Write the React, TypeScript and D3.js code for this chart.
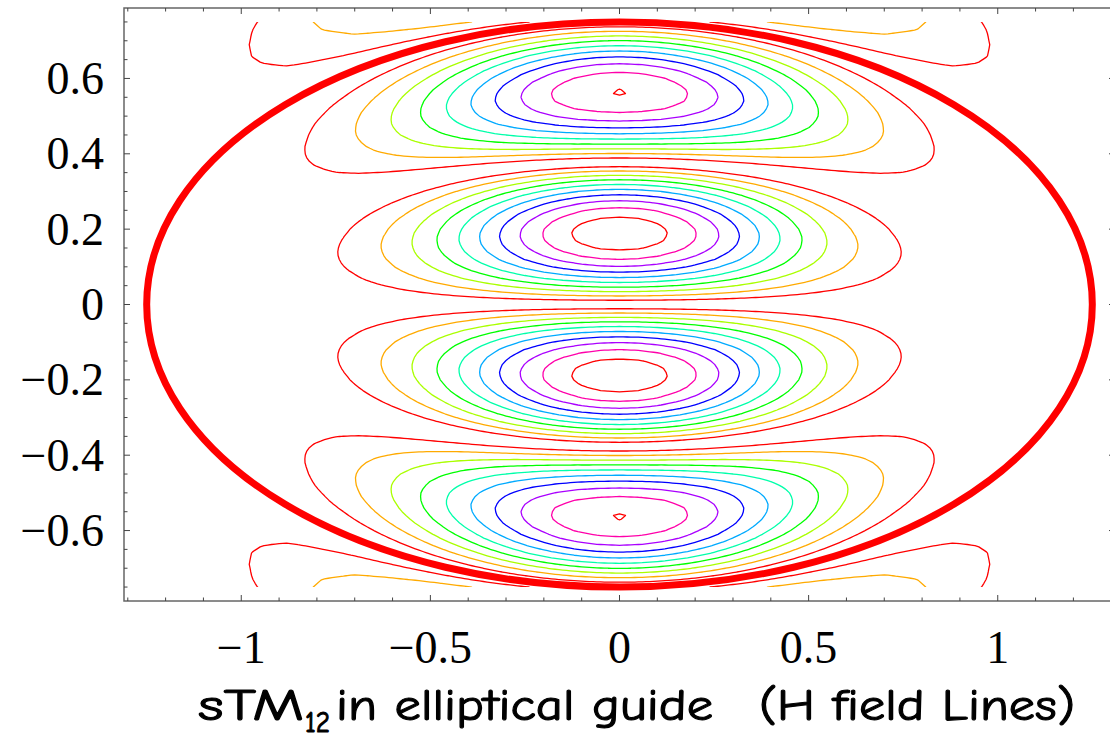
import React, { useMemo } from "react";
import * as d3 from "d3";

const W = 1110;
const H = 738;

// Profile of |H_z| across confocal ellipses, s = sinh(xi) (foci at x = ±1) (contour-level units)
const radialS = [
  0, 0.025, 0.05, 0.075, 0.1, 0.125, 0.15, 0.17, 0.1885, 0.205, 0.225, 0.25, 0.275, 0.3, 0.325, 0.35, 0.377,
  0.4, 0.425, 0.45, 0.475, 0.5, 0.525, 0.545, 0.563, 0.58, 0.6, 0.625, 0.65, 0.675, 0.7, 0.725, 0.749,
  0.775, 0.8, 0.85, 0.9, 0.935, 0.97, 1.0, 1.05, 1.1, 1.15, 1.2, 1.3,
];
const radialValue = [
  0, 2.22, 4.35, 6.28, 7.95, 9.28, 10.19, 10.61, 10.74, 10.64, 10.25, 9.36, 8.07, 6.43, 4.52, 2.39, 0,
  1.94, 3.96, 5.81, 7.4, 8.66, 9.54, 9.93, 10.05, 9.95, 9.56, 8.7, 7.46, 5.88, 4.04, 2.02, 0,
  2.05, 3.92, 7.08, 8.99, 9.4, 8.99, 8.02, 5.31, 1.66, 1.5, 3.0, 4.0,
];

// Angular profile along the confocal hyperbolas, t = cos(eta)
const angularT = [0, 0.05, 0.1, 0.15, 0.2, 0.25, 0.3, 0.35, 0.4, 0.45, 0.5, 0.55, 0.6, 0.65, 0.7, 0.75, 0.8, 0.85, 0.9, 0.95, 1];
const angularValue = [1, 0.989, 0.957, 0.906, 0.839, 0.76, 0.673, 0.583, 0.495, 0.41, 0.333, 0.264, 0.205, 0.156, 0.113, 0.081, 0.057, 0.039, 0.025, 0.013, 0];

// Contour levels and their hues
const contourLevels = [1, 2, 3, 4, 5, 6, 7, 8, 9, 10];
const contourHues = [0, 40, 80, 120, 160, 200, 240, 280, 320, 360];

// Guide boundary (semi-axes)
const ellipseAxes = [1.25, 0.75];
// Region over which the field was sampled
const fieldX = [-1.25, 1.25];
const fieldY = [-0.75, 0.75];

// Axes
const xDomain = [-1.31, 1.31];
const yDomain = [-0.787, 0.787];
const xMajor = [-1, -0.5, 0, 0.5, 1];
const xMajorLabels = ["\u22121", "\u22120.5", "0", "0.5", "1"];
const xMinor = [-1.3, -1.2, -1.1, -0.9, -0.8, -0.7, -0.6, -0.4, -0.3, -0.2, -0.1, 0.1, 0.2, 0.3, 0.4, 0.6, 0.7, 0.8, 0.9, 1.1, 1.2, 1.3];
const yMajor = [-0.6, -0.4, -0.2, 0, 0.2, 0.4, 0.6];
const yMajorLabels = ["\u22120.6", "\u22120.4", "\u22120.2", "0", "0.2", "0.4", "0.6"];
const yMinor = [-0.75, -0.7, -0.65, -0.55, -0.5, -0.45, -0.35, -0.3, -0.25, -0.15, -0.1, -0.05, 0.05, 0.1, 0.15, 0.25, 0.3, 0.35, 0.45, 0.5, 0.55, 0.65, 0.7, 0.75];

const titleMain = "sTM";
const titleSub = "12";
const titleMid = "in elliptical guide";
const titleEnd = "(H field Lines)";

export default function App() {
  const left = 124;
  const right = 1115;
  const top = 8;
  const bottom = 601;

  const x = d3.scaleLinear().domain(xDomain).range([left, right]);
  const y = d3.scaleLinear().domain(yDomain).range([bottom, top]);

  const paths = useMemo(() => {
    const step = 0.01;
    const nx = Math.round((fieldX[1] - fieldX[0]) / step) + 1;
    const ny = Math.round((fieldY[1] - fieldY[0]) / step) + 1;
    const R = d3.scaleLinear().domain(radialS).range(radialValue).clamp(true);
    const S = d3.scaleLinear().domain(angularT).range(angularValue).clamp(true);
    const values: number[] = new Array(nx * ny);
    for (let j = 0; j < ny; j++) {
      const yy = fieldY[1] - j * step;
      for (let i = 0; i < nx; i++) {
        const xx = fieldX[0] + i * step;
        const q = xx * xx + yy * yy - 1;
        const u = Math.max(0, (q + Math.sqrt(q * q + 4 * yy * yy)) / 2);
        const s = Math.sqrt(u);
        const t = Math.min(1, Math.abs(xx) / Math.sqrt(1 + u));
        values[j * nx + i] = R(s) * S(t);
      }
    }
    const gen = d3.contours().size([nx, ny]).thresholds(contourLevels);
    const polys = gen(values);
    const proj = d3.geoTransform({
      point: function (this: any, px: number, py: number) {
        this.stream.point(x(fieldX[0] + (px - 0.5) * step), y(fieldY[1] - (py - 0.5) * step));
      },
    });
    const gp = d3.geoPath(proj);
    return polys.map((p, k) => ({
      d: gp(p as any) || "",
      color: d3.hsl(contourHues[k], 1, 0.5).formatHex(),
    }));
  }, []);

  const axisColor = "#666";
  const majorLen = 6;
  const minorLen = 3.5;
  const fontTicks = "'Liberation Serif', 'Times New Roman', Times, serif";
  const fontTitle = "'Comic Sans MS', 'Comic Neue', 'DejaVu Sans', sans-serif";

  return (
    <div style={{ position: "absolute", left: 0, top: 0 }}>
      <svg width={W} height={H} style={{ display: "block", background: "#fff" }}>
        <defs>
          <clipPath id="fieldClip">
            <rect
              x={x(fieldX[0])}
              y={y(fieldY[1])}
              width={x(fieldX[1]) - x(fieldX[0])}
              height={y(fieldY[0]) - y(fieldY[1])}
            />
          </clipPath>
        </defs>
        <g clipPath="url(#fieldClip)">
          {paths.map((p, k) => (
            <path key={k} d={p.d} fill="none" stroke={p.color} strokeWidth={1.3} strokeLinejoin="round" />
          ))}
        </g>
        <ellipse
          cx={x(0)}
          cy={y(0)}
          rx={x(ellipseAxes[0]) - x(0)}
          ry={y(0) - y(ellipseAxes[1])}
          fill="none"
          stroke="#ff0000"
          strokeWidth={7}
        />
        <rect x={left} y={top} width={right - left} height={bottom - top} fill="none" stroke={axisColor} strokeWidth={1.5} />
        <g stroke="#444" strokeWidth={1}>
          {xMajor.map((v) => (
            <g key={"xM" + v}>
              <line x1={x(v)} x2={x(v)} y1={bottom} y2={bottom - majorLen} />
              <line x1={x(v)} x2={x(v)} y1={top} y2={top + majorLen} />
            </g>
          ))}
          {xMinor.map((v) => (
            <g key={"xm" + v}>
              <line x1={x(v)} x2={x(v)} y1={bottom} y2={bottom - minorLen} />
              <line x1={x(v)} x2={x(v)} y1={top} y2={top + minorLen} />
            </g>
          ))}
          {yMajor.map((v) => (
            <g key={"yM" + v}>
              <line x1={left} x2={left + majorLen} y1={y(v)} y2={y(v)} />
              <line x1={right} x2={right - majorLen} y1={y(v)} y2={y(v)} />
            </g>
          ))}
          {yMinor.map((v) => (
            <g key={"ym" + v}>
              <line x1={left} x2={left + minorLen} y1={y(v)} y2={y(v)} />
              <line x1={right} x2={right - minorLen} y1={y(v)} y2={y(v)} />
            </g>
          ))}
        </g>
        <g fontFamily={fontTicks} fontSize={46} fill="#000">
          {xMajor.map((v, i) => (
            <text key={"xl" + v} x={x(v)} y={662.5} textAnchor="middle">
              {xMajorLabels[i]}
            </text>
          ))}
          {yMajor.map((v, i) => (
            <text key={"yl" + v} x={104} y={y(v) + 15.6} textAnchor="end">
              {yMajorLabels[i]}
            </text>
          ))}
        </g>
        <g fontFamily={fontTitle} fill="#000" stroke="#000" strokeWidth={1.1} strokeLinejoin="round">
          <text x={198} y={719.5} fontSize={45} textLength={106} lengthAdjust="spacingAndGlyphs">
            {titleMain}
          </text>
          <text x={305} y={731.5} fontSize={30} textLength={25} lengthAdjust="spacingAndGlyphs">
            {titleSub}
          </text>
          <text x={336} y={719.5} fontSize={45} textLength={377} lengthAdjust="spacingAndGlyphs">
            {titleMid}
          </text>
          <text x={759} y={719.5} fontSize={45} textLength={316} lengthAdjust="spacingAndGlyphs">
            {titleEnd}
          </text>
        </g>
      </svg>
    </div>
  );
}
